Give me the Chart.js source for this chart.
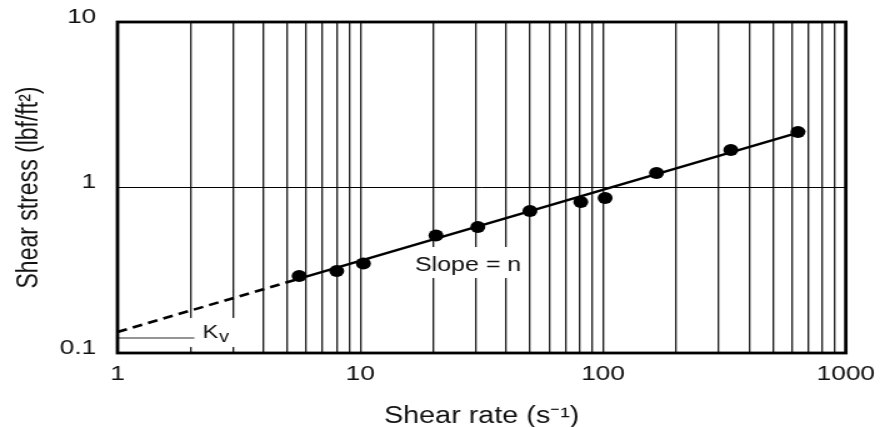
<!DOCTYPE html>
<html>
<head>
<meta charset="utf-8">
<script src="https://cdn.jsdelivr.net/npm/chart.js@4/dist/chart.umd.min.js"></script>
<style>
  html, body { margin: 0; padding: 0; background: #fff; overflow: hidden; }
  #wrap { width: 886px; height: 427px; overflow: hidden; }
  #chart { display: block; transform: scaleX(1.25); transform-origin: 0 0; }
</style>
</head>
<body>
<div id="wrap"><canvas id="chart" width="709" height="427"></canvas></div>
<script>
// Measured rheogram: shear rate (1/s) vs shear stress (lbf/ft²)
const shearRate   = [5.6, 8.0, 10.3, 20.5, 30.5, 50, 81, 102, 166, 336, 635];
const shearStress = [0.292, 0.313, 0.347, 0.513, 0.577, 0.721, 0.817, 0.864, 1.224, 1.685, 2.164];

// Power-law line: extrapolated back to the intercept Kv (first segment), then through the data
const fitRate   = [1, 5.7, 680];
const fitStress = [0.134, 0.283, 2.21];

// Axis ticks
const xTickValues = [1, 10, 100, 1000];
const xTickLabels = ['1', '10', '100', '1000'];
const yTickValues = [0.1, 1, 10];
const yTickLabels = ['0.1', '1', '10'];
const xGridSteps  = [1, 2, 3, 4, 5, 6, 7, 8, 9];

const FONT = "'Liberation Sans', Arial, Helvetica, sans-serif";

// vertical grid at every 1..9 multiple of each decade
const xGrid = [];
for (let d = 1; d < 1000; d *= 10) xGridSteps.forEach(m => xGrid.push(m * d));
xGrid.push(1000);

const pts = (xs, ys) => xs.map((v, i) => ({ x: v, y: ys[i] }));

const notes = {
  id: 'notes',
  beforeDatasetsDraw(chart) {
    const { ctx, scales: { x, y } } = chart;
    ctx.save();

    // Kv guide line and label
    const kvY = y.getPixelForValue(fitStress[0]) + 6;
    const x1 = x.getPixelForValue(1), x2 = x.getPixelForValue(2), x3 = x.getPixelForValue(3);
    ctx.fillStyle = '#fff';
    ctx.fillRect(x1 + 2, kvY - 20, x3 + 6 - x1 - 2, 29);
    ctx.strokeStyle = '#707070';
    ctx.lineWidth = 1.5;
    ctx.beginPath();
    ctx.moveTo(x1, kvY);
    ctx.lineTo(x2 + 3, kvY);
    ctx.stroke();
    ctx.fillStyle = '#111';
    ctx.textAlign = 'left';
    ctx.textBaseline = 'alphabetic';
    ctx.font = `19px ${FONT}`;
    const kx = x2 + 9.5;
    ctx.fillText('K', kx, kvY + 0.5);
    const kw = ctx.measureText('K').width;
    ctx.font = `16px ${FONT}`;
    ctx.fillText('v', kx + kw + 0.5, kvY + 4);

    // slope label
    ctx.font = `20px ${FONT}`;
    const txt = 'Slope = n';
    const tw = ctx.measureText(txt).width;
    const cx = x.getPixelForValue(27.8), cy = y.getPixelForValue(0.34);
    ctx.fillStyle = '#fff';
    ctx.fillRect(cx - tw / 2 - 4, cy - 18, tw + 8, 31);
    ctx.fillStyle = '#111';
    ctx.textAlign = 'center';
    ctx.textBaseline = 'middle';
    ctx.fillText(txt, cx, cy);

    ctx.restore();
  },
  afterDraw(chart) {
    const { ctx, chartArea: a } = chart;
    ctx.save();
    ctx.strokeStyle = '#000';
    ctx.lineWidth = 2.8;
    ctx.strokeRect(a.left, a.top, a.right - a.left, a.bottom - a.top);
    ctx.restore();
  }
};

new Chart(document.getElementById('chart'), {
  type: 'scatter',
  data: {
    datasets: [
      {
        data: pts(fitRate.slice(0, 2), fitStress.slice(0, 2)),
        showLine: true, borderColor: '#000', borderWidth: 2.6, borderDash: [8, 5],
        pointRadius: 0
      },
      {
        data: pts(fitRate.slice(1), fitStress.slice(1)),
        showLine: true, borderColor: '#000', borderWidth: 2.4,
        pointRadius: 0
      },
      {
        data: pts(shearRate, shearStress),
        pointRadius: 6, pointBackgroundColor: '#000', pointBorderWidth: 0,
        showLine: false
      }
    ]
  },
  options: {
    responsive: false,
    animation: false,
    devicePixelRatio: 1,
    layout: { padding: { top: 22, right: 28, bottom: 0, left: 0 } },
    plugins: { legend: { display: false }, tooltip: { enabled: false } },
    scales: {
      x: {
        type: 'logarithmic', min: 1, max: 1000,
        afterBuildTicks: s => { s.ticks = xGrid.map(v => ({ value: v, major: xTickValues.includes(v) })); },
        afterFit: s => { s.height = 74; },
        ticks: {
          autoSkip: false, maxRotation: 0, padding: 9, color: '#111',
          font: { family: FONT, size: 21 },
          callback: v => { const i = xTickValues.indexOf(v); return i >= 0 ? xTickLabels[i] : ''; }
        },
        grid: { color: '#222', lineWidth: 1.35, drawTicks: false },
        border: { display: false },
        title: {
          display: true, text: 'Shear rate (s⁻¹)', color: '#111',
          font: { family: FONT, size: 23, lineHeight: 0.9 }, padding: { top: 0, bottom: 0 }
        }
      },
      y: {
        type: 'logarithmic', min: 0.1, max: 10,
        afterBuildTicks: s => { s.ticks = yTickValues.map(v => ({ value: v, major: true })); },
        afterFit: s => { s.width = 94; s.paddingTop = 0; s.paddingBottom = 0; },
        ticks: {
          autoSkip: false, padding: 17, labelOffset: -5, color: '#111',
          font: { family: FONT, size: 21 },
          callback: v => { const i = yTickValues.indexOf(v); return i >= 0 ? yTickLabels[i] : ''; }
        },
        grid: { color: '#000', lineWidth: 1, drawTicks: false },
        border: { display: false },
        title: {
          display: true, text: 'Shear stress (lbf/ft²)', color: '#111',
          font: { family: FONT, size: 23, lineHeight: 1 }, padding: { top: 12, bottom: 0 }
        }
      }
    }
  },
  plugins: [notes]
});
</script>
</body>
</html>
